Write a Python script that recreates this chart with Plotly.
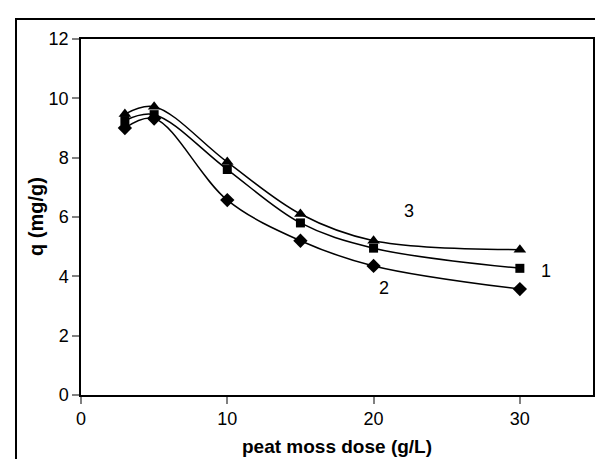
import plotly.graph_objects as go

dose = [3, 5, 10, 15, 20, 30]
q1 = [9.25, 9.45, 7.6, 5.8, 4.95, 4.27]   # series 1 (squares)
q2 = [9.0, 9.32, 6.57, 5.2, 4.35, 3.57]   # series 2 (diamonds)
q3 = [9.47, 9.72, 7.85, 6.1, 5.2, 4.9]    # series 3 (triangles)

labels = ["1", "2", "3"]
label_x = [31.8, 20.7, 22.4]
label_y = [4.19, 3.62, 6.2]

W, H = 603, 459
L, R, T, B = 73, 18, 31, 72
pw, ph = W - L - R, H - T - B
bottom_px = T + ph

fig = go.Figure()
for y, sym, sz in [(q3, "triangle-up", 11), (q1, "square", 9), (q2, "diamond", 11)]:
    fig.add_trace(go.Scatter(
        x=dose, y=y, mode="lines+markers",
        line=dict(color="black", width=1.5, shape="spline", smoothing=1.0),
        marker=dict(symbol=sym, size=sz, color="black"),
        showlegend=False,
    ))

for t, lx, ly in zip(labels, label_x, label_y):
    fig.add_annotation(x=lx, y=ly, text=t, showarrow=False,
                       font=dict(family="Liberation Sans, Arial", size=18, color="black"))

fig.add_annotation(xref="paper", yref="paper", x=(329 - L) / pw, y=-(438 - bottom_px) / ph,
                   text="<b>peat moss dose (g/L)</b>", showarrow=False,
                   xanchor="center", yanchor="middle",
                   font=dict(family="Liberation Sans, Arial", size=19, color="black"))
fig.add_annotation(xref="paper", yref="paper", x=(28 - L) / pw, y=0.5,
                   text="<b>q (mg/g)</b>", showarrow=False, textangle=-90,
                   xanchor="center", yanchor="middle",
                   font=dict(family="Liberation Sans, Arial", size=20, color="black"))

# outer chart border
fig.add_shape(type="rect", xref="paper", yref="paper",
              x0=(8 - L) / pw, x1=(W + 20 - L) / pw,
              y0=-(H + 20 - bottom_px) / ph, y1=(bottom_px - 11) / ph,
              line=dict(color="black", width=2), layer="below")

axis_common = dict(showgrid=False, zeroline=False, showline=True, linecolor="black",
                   linewidth=1.5, mirror=True, ticks="outside", ticklen=7,
                   tickcolor="#808080", tickwidth=1.5,
                   tickfont=dict(family="Liberation Sans, Arial", size=18, color="black"))

fig.update_xaxes(range=[0, 35], tickvals=[0, 10, 20, 30], **axis_common)
fig.update_yaxes(range=[0, 12], tickvals=[0, 2, 4, 6, 8, 10, 12], **axis_common)

fig.update_layout(width=W, height=H, margin=dict(l=L, r=R, t=T, b=B),
                  plot_bgcolor="white", paper_bgcolor="white")

fig.write_html("out.html")
